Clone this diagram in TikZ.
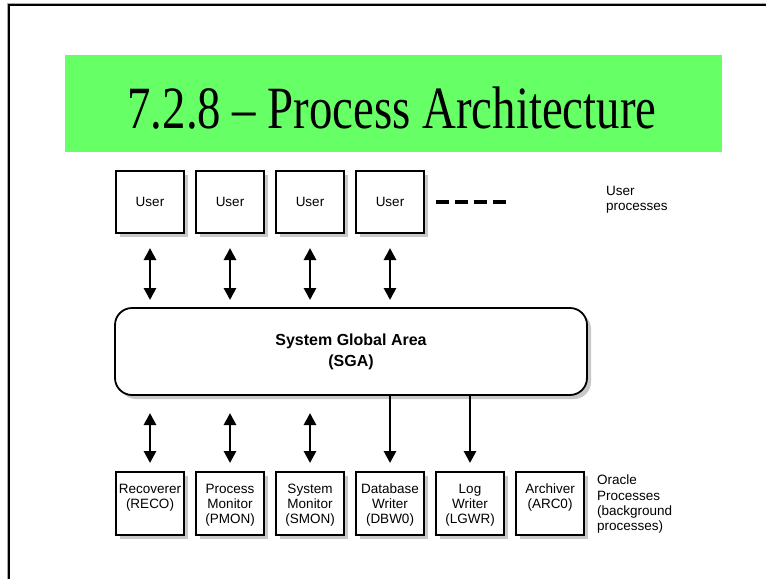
\documentclass[tikz,border=0pt]{standalone}
\usepackage{fontspec}
\setmainfont{Liberation Serif}
\setsansfont{Liberation Sans}
\usetikzlibrary{arrows.meta,calc,backgrounds}
\definecolor{titlegreen}{RGB}{102,255,102}
\definecolor{shadowgray}{RGB}{200,200,200}
\definecolor{framegray}{RGB}{170,170,170}

\begin{document}
\begin{tikzpicture}[x=1pt,y=-1pt,
  procbox/.style={draw=black, line width=1.4pt, fill=white,
    minimum width=68pt, minimum height=62pt, inner sep=0pt, outer sep=0pt,
    font=\sffamily\fontsize{13.5}{15}\selectfont},
  boxtext/.style={anchor=north, align=center, inner sep=0pt,
    font=\sffamily\fontsize{13.5}{15}\selectfont},
  sidetext/.style={anchor=north west, align=left, inner sep=0pt,
    font=\sffamily\fontsize{13.5}{15.3}\selectfont},
  sgabox/.style={draw=black, line width=1.8pt, fill=white, rounded corners=17pt,
    minimum width=472pt, minimum height=87pt, inner sep=0pt, outer sep=0pt, align=center,
    font=\sffamily\bfseries\fontsize{16}{21}\selectfont},
  boxshade/.style={fill=shadowgray, draw=none},
  link/.style={line width=2.8pt, draw=black},
  twoway/.style={link, {Triangle[width=12pt,length=12pt]}-{Triangle[width=12pt,length=12pt]}},
  oneway/.style={link, -{Triangle[width=12pt,length=12pt]}},
]
\useasboundingbox (0,0) rectangle (766,579);

% slide frame
\draw[framegray, line width=1pt] (7.5,579) -- (7.5,3.5) -- (766,3.5);
\draw[black, line width=2.2pt] (9,579) -- (9,5) -- (766,5);

% title bar
\fill[titlegreen] (65,55) rectangle (722,152);
\node[anchor=base, inner sep=0pt, font=\fontsize{60}{60}\selectfont] (title) at (392,128)
  {\scalebox{0.78}[1]{7.2.8 -- Process Architecture}};

% user processes
\foreach \i/\x in {1/150,2/230,3/310,4/390}
  \node[procbox] (u\i) at (\x,202) {User};
\coordinate (dashA) at (436,202);
\coordinate (dashB) at (507,202);
\draw[line width=4pt, dash pattern=on 13pt off 6pt] (dashA) -- (dashB);
\node[sidetext] (ulabel) at (606,186) {User\\processes};

% system global area
\node[sgabox] (sga) at (351,351.5) {System Global Area\\(SGA)};

% background processes
\foreach \i/\x in {1/150,2/230,3/310,4/390,5/470,6/550}
  \node[procbox, minimum height=63pt] (b\i) at (\x,503.5) {};
\node[boxtext] (t1) at ($(b1.north)+(0,12)$) {Recoverer\\(RECO)};
\node[boxtext] (t2) at ($(b2.north)+(0,12)$) {Process\\Monitor\\(PMON)};
\node[boxtext] (t3) at ($(b3.north)+(0,12)$) {System\\Monitor\\(SMON)};
\node[boxtext] (t4) at ($(b4.north)+(0,12)$) {Database\\Writer\\(DBW0)};
\node[boxtext] (t5) at ($(b5.north)+(0,12)$) {Log\\Writer\\(LGWR)};
\node[boxtext] (t6) at ($(b6.north)+(0,12)$) {Archiver\\(ARC0)};
\node[sidetext] (blabel) at (597,475) {Oracle\\Processes\\(background\\processes)};

% soft drop shadows under the boxes
\begin{scope}[on background layer]
  \foreach \n in {u1,u2,u3,u4,b1,b2,b3,b4,b5,b6}
    \fill[boxshade] ($(\n.north west)+(4,4)$) rectangle ($(\n.south east)+(4,4)$);
  \fill[boxshade, rounded corners=17pt] ($(sga.north west)+(4,4)$) rectangle ($(sga.south east)+(4,4)$);
\end{scope}

% connectors between users and the SGA
\foreach \i in {1,...,4}
  \draw[twoway, shorten <=15pt, shorten >=8pt] (u\i.south) -- (u\i.south |- sga.north);

% connectors between the SGA and the background processes
\foreach \i in {1,2,3}
  \draw[twoway, shorten <=18pt, shorten >=9pt] (b\i.north |- sga.south) -- (b\i.north);
\foreach \i in {4,5}
  \draw[oneway, shorten >=9pt] (b\i.north |- sga.south) -- (b\i.north);
\end{tikzpicture}
\end{document}
